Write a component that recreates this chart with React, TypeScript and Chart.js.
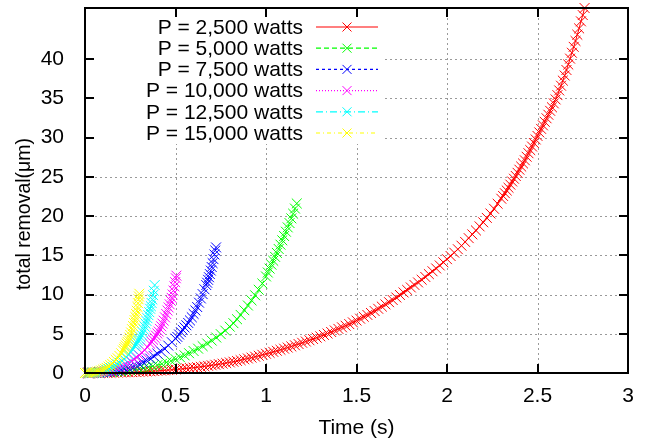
import React, { useEffect, useRef } from 'react';
import { Chart, registerables } from 'chart.js';

Chart.register(...registerables);

const FONT = '"Liberation Sans", Arial, Helvetica, sans-serif';

// ---- Data (time in s, total removal in µm) ----
const redT = [0, 0.02, 0.04, 0.06, 0.08, 0.1, 0.12, 0.14, 0.16, 0.18, 0.2, 0.22, 0.24, 0.26, 0.28, 0.3, 0.32, 0.34, 0.36, 0.38, 0.4, 0.42, 0.44, 0.46, 0.48, 0.5, 0.52, 0.54, 0.56, 0.58, 0.6, 0.62, 0.64, 0.66, 0.68, 0.7, 0.72, 0.74, 0.76, 0.78, 0.8,
  0.82, 0.84, 0.86, 0.88, 0.9, 0.92, 0.94, 0.96, 0.98, 1.0, 1.02, 1.04, 1.06, 1.08, 1.1, 1.12, 1.14, 1.16, 1.18, 1.2, 1.22, 1.24, 1.26, 1.28, 1.3, 1.32, 1.34, 1.36, 1.38, 1.4, 1.42, 1.44, 1.46, 1.48, 1.5, 1.52, 1.54, 1.56, 1.58, 1.6,
  1.62, 1.64, 1.66, 1.68, 1.7, 1.72, 1.74, 1.76, 1.78, 1.8, 1.82, 1.84, 1.86, 1.88, 1.9, 1.92, 1.94, 1.96, 1.98, 2.0, 2.02, 2.04, 2.06, 2.08, 2.1, 2.12, 2.14, 2.16, 2.18, 2.2, 2.22, 2.24, 2.26, 2.28, 2.3,
  2.31, 2.32, 2.33, 2.34, 2.35, 2.36, 2.37, 2.38, 2.39, 2.4, 2.41, 2.42, 2.43, 2.44, 2.45, 2.46, 2.47, 2.48, 2.49, 2.5, 2.51, 2.52, 2.53, 2.54, 2.55, 2.56, 2.57, 2.58, 2.59, 2.6, 2.61, 2.62, 2.63, 2.64, 2.65, 2.66, 2.67, 2.68, 2.69, 2.7, 2.71, 2.72, 2.73, 2.74, 2.75, 2.76];
const redV = [0, 0.002, 0.005, 0.008, 0.012, 0.02, 0.03, 0.04, 0.05, 0.06, 0.07, 0.085, 0.1, 0.115, 0.13, 0.15, 0.17, 0.195, 0.22, 0.25, 0.28, 0.31, 0.34, 0.375, 0.41, 0.45, 0.49, 0.535, 0.58, 0.63, 0.68, 0.735, 0.79, 0.85, 0.91, 0.98, 1.05, 1.12, 1.19, 1.27, 1.35,
  1.44, 1.53, 1.63, 1.74, 1.85, 1.96, 2.08, 2.2, 2.32, 2.45, 2.57, 2.7, 2.83, 2.96, 3.1, 3.24, 3.38, 3.53, 3.69, 3.85, 4.01, 4.17, 4.33, 4.5, 4.67, 4.85, 5.03, 5.22, 5.42, 5.62, 5.82, 6.02, 6.23, 6.45, 6.68, 6.92, 7.16, 7.4, 7.65, 7.9,
  8.18, 8.46, 8.74, 9.02, 9.3, 9.62, 9.94, 10.26, 10.58, 10.9, 11.22, 11.54, 11.88, 12.24, 12.6, 12.96, 13.32, 13.7, 14.1, 14.5, 14.9, 15.33, 15.77, 16.22, 16.7, 17.18, 17.66, 18.16, 18.68, 19.2, 19.76, 20.32, 20.92, 21.56, 22.2,
  22.55, 22.9, 23.25, 23.6, 24.0, 24.4, 24.75, 25.1, 25.5, 25.9, 26.3, 26.7, 27.1, 27.55, 28.0, 28.4, 28.85, 29.3, 29.75, 30.2, 30.65, 31.1, 31.55, 32.0, 32.45, 32.9, 33.4, 33.85, 34.35, 34.85, 35.4, 36.0, 36.6, 37.25, 37.9, 38.6, 39.3, 40.05, 40.8, 41.55, 42.3, 43.1, 43.9, 44.8, 45.6, 46.5];

const greenT = [0, 0.025, 0.05, 0.075, 0.1, 0.125, 0.15, 0.175, 0.2, 0.225, 0.25, 0.275, 0.3, 0.325, 0.35, 0.375, 0.4, 0.425, 0.45, 0.475, 0.5, 0.525, 0.55, 0.575, 0.6, 0.625, 0.65, 0.675, 0.7, 0.725, 0.75, 0.775, 0.8,
  0.82, 0.84, 0.86, 0.88, 0.9, 0.92, 0.94, 0.96, 0.98, 1.0,
  1.01, 1.02, 1.03, 1.04, 1.05, 1.06, 1.07, 1.08, 1.09, 1.1, 1.11, 1.12, 1.13, 1.14, 1.15, 1.16, 1.17];
const greenV = [0, 0.01, 0.02, 0.04, 0.06, 0.09, 0.13, 0.17, 0.22, 0.28, 0.35, 0.43, 0.52, 0.62, 0.74, 0.87, 1.01, 1.17, 1.35, 1.55, 1.77, 2.0, 2.25, 2.52, 2.8, 3.1, 3.42, 3.76, 4.13, 4.52, 4.95, 5.4, 5.9,
  6.35, 6.85, 7.4, 8.0, 8.6, 9.25, 9.9, 10.6, 11.4, 12.3,
  12.8, 13.3, 13.8, 14.3, 14.8, 15.3, 15.8, 16.35, 16.9, 17.45, 18.0, 18.55, 19.1, 19.7, 20.3, 20.95, 21.6];

const blueT = [0, 0.02, 0.04, 0.06, 0.08, 0.1, 0.12, 0.14, 0.16, 0.18, 0.2, 0.22, 0.24, 0.26, 0.28, 0.3, 0.32, 0.34, 0.36, 0.38, 0.4, 0.42, 0.44, 0.46, 0.48, 0.5,
  0.51, 0.52, 0.53, 0.54, 0.55, 0.56, 0.57, 0.58, 0.59, 0.6, 0.61, 0.62, 0.63, 0.64, 0.65, 0.66, 0.67,
  0.675, 0.68, 0.685, 0.69, 0.695, 0.7, 0.705, 0.71, 0.715, 0.72, 0.724];
const blueV = [0, 0.01, 0.02, 0.03, 0.06, 0.09, 0.13, 0.18, 0.24, 0.3, 0.4, 0.53, 0.67, 0.81, 0.96, 1.14, 1.37, 1.6, 1.84, 2.15, 2.47, 2.75, 3.09, 3.49, 3.92, 4.38,
  4.6, 4.9, 5.2, 5.5, 5.8, 6.08, 6.38, 6.7, 7.1, 7.53, 7.96, 8.4, 8.96, 9.5, 10.05, 10.67, 11.2,
  11.5, 11.87, 12.2, 12.6, 13.05, 13.5, 14.0, 14.5, 15.1, 15.6, 16.0];

const magentaT = [0, 0.015, 0.03, 0.045, 0.06, 0.075, 0.09, 0.105, 0.12, 0.135, 0.15, 0.165, 0.18, 0.195, 0.21, 0.225, 0.24, 0.255, 0.27, 0.285, 0.3, 0.315, 0.33, 0.345, 0.36,
  0.368, 0.376, 0.384, 0.392, 0.4, 0.407, 0.414, 0.421, 0.428, 0.435, 0.442, 0.449, 0.456, 0.462, 0.468, 0.474, 0.479, 0.484, 0.489, 0.494, 0.498, 0.502, 0.505];
const magentaV = [0, 0.01, 0.01, 0.03, 0.05, 0.08, 0.12, 0.16, 0.22, 0.27, 0.38, 0.51, 0.62, 0.74, 0.89, 1.09, 1.26, 1.49, 1.76, 2.01, 2.26, 2.58, 2.91, 3.29, 3.72,
  3.98, 4.24, 4.49, 4.76, 5.03, 5.28, 5.62, 5.95, 6.29, 6.67, 7.09, 7.51, 7.95, 8.35, 8.75, 9.2, 9.57, 10.0, 10.5, 11.04, 11.57, 12.07, 12.4];

const cyanT = [0, 0.012, 0.024, 0.036, 0.048, 0.06, 0.072, 0.084, 0.096, 0.108, 0.12, 0.132, 0.144, 0.156, 0.168, 0.18, 0.192, 0.204, 0.216, 0.228, 0.24, 0.252, 0.264, 0.276,
  0.282, 0.288, 0.294, 0.3, 0.306, 0.312, 0.318, 0.324, 0.33, 0.335, 0.34, 0.345, 0.35, 0.355, 0.36, 0.364, 0.368, 0.372, 0.376, 0.38, 0.385];
const cyanV = [0, 0.01, 0.01, 0.03, 0.05, 0.08, 0.12, 0.16, 0.21, 0.3, 0.4, 0.51, 0.63, 0.75, 0.93, 1.11, 1.3, 1.55, 1.79, 2.03, 2.32, 2.65, 3.01, 3.42,
  3.64, 3.86, 4.11, 4.35, 4.59, 4.87, 5.21, 5.55, 5.91, 6.27, 6.62, 6.98, 7.37, 7.75, 8.18, 8.51, 8.92, 9.37, 9.92, 10.48, 11.2];

const yellowT = [0, 0.01, 0.02, 0.03, 0.04, 0.05, 0.06, 0.07, 0.08, 0.09, 0.1, 0.11, 0.12, 0.13, 0.14, 0.15, 0.16, 0.17, 0.18, 0.19, 0.2, 0.21,
  0.215, 0.22, 0.225, 0.23, 0.235, 0.24, 0.245, 0.25, 0.255, 0.26, 0.265, 0.27,
  0.274, 0.278, 0.282, 0.286, 0.29, 0.293, 0.296, 0.298, 0.3];
const yellowV = [0, 0.01, 0.02, 0.03, 0.05, 0.08, 0.12, 0.17, 0.23, 0.32, 0.43, 0.54, 0.65, 0.82, 1.0, 1.17, 1.41, 1.66, 1.88, 2.18, 2.51, 2.86,
  3.08, 3.29, 3.51, 3.75, 3.97, 4.2, 4.52, 4.84, 5.16, 5.58, 5.98, 6.39,
  6.74, 7.13, 7.52, 7.93, 8.41, 8.89, 9.39, 9.75, 10.1];

const seriesLabels = ['P = 2,500 watts', 'P = 5,000 watts', 'P = 7,500 watts', 'P = 10,000 watts', 'P = 12,500 watts', 'P = 15,000 watts'];
const seriesTimes = [redT, greenT, blueT, magentaT, cyanT, yellowT];
const seriesValues = [redV, greenV, blueV, magentaV, cyanV, yellowV];

const xTickValues = [0, 0.5, 1, 1.5, 2, 2.5, 3];
const xTickLabels = ['0', '0.5', '1', '1.5', '2', '2.5', '3'];
const yTickValues = [0, 5, 10, 15, 20, 25, 30, 35, 40];
const yTickLabels = ['0', '5', '10', '15', '20', '25', '30', '35', '40'];
const xTitle = 'Time (s)';
const yTitle = 'total removal(μm)';

// ---- Styles ----
const seriesColors = ['#ff0000', '#00ff00', '#0000ff', '#ff00ff', '#00ffff', '#ffff00'];
const seriesDashes = [[], [5, 3], [3, 3], [1, 2], [7, 3, 1, 3], [4, 3, 1, 3]];

const KEY = { textRight: 303, sampleLeft: 316, sampleRight: 378, markX: 347, firstRow: 27, rowStep: 21.2, boxRight: 383, boxBottom: 143, font: 21 };
const TICK_LEN = 9;
const Y_TITLE = { x: 25, y: 214, size: 19.5 };

function drawX(ctx: CanvasRenderingContext2D, cx: number, cy: number, h: number) {
  ctx.beginPath();
  ctx.moveTo(cx - h, cy - h); ctx.lineTo(cx + h, cy + h);
  ctx.moveTo(cx - h, cy + h); ctx.lineTo(cx + h, cy - h);
  ctx.stroke();
}

const gnuplotFrame = {
  id: 'gnuplotFrame',
  beforeDatasetsDraw(chart: any) {
    const { ctx, chartArea: a, scales } = chart;
    const x = scales.x, y = scales.y;
    ctx.save();
    ctx.strokeStyle = '#9a9a9a';
    ctx.lineWidth = 1;
    ctx.setLineDash([2, 3]);
    xTickValues.forEach((v) => {
      const px = Math.round(x.getPixelForValue(v)) + 0.5;
      if (px <= a.left + 2 || px >= a.right - 2) return;
      ctx.beginPath(); ctx.moveTo(px, a.top); ctx.lineTo(px, a.bottom); ctx.stroke();
    });
    yTickValues.forEach((v) => {
      const py = Math.round(y.getPixelForValue(v)) + 0.5;
      if (py <= a.top + 2 || py >= a.bottom - 2) return;
      ctx.beginPath(); ctx.moveTo(a.left, py); ctx.lineTo(a.right, py); ctx.stroke();
    });
    ctx.restore();
  },
  afterDatasetsDraw(chart: any) {
    const { ctx, chartArea: a, scales } = chart;
    const x = scales.x, y = scales.y;
    ctx.save();
    // opaque key box
    ctx.fillStyle = '#ffffff';
    ctx.fillRect(a.left + 1, a.top + 1, KEY.boxRight - a.left, KEY.boxBottom - a.top);
    // key entries
    ctx.font = `${KEY.font}px ${FONT}`;
    ctx.textAlign = 'right';
    ctx.textBaseline = 'middle';
    seriesLabels.forEach((label, i) => {
      const ry = KEY.firstRow + i * KEY.rowStep;
      ctx.fillStyle = '#000';
      ctx.fillText(label, KEY.textRight, ry + 1);
      ctx.strokeStyle = seriesColors[i];
      ctx.lineWidth = 1.2;
      ctx.setLineDash(seriesDashes[i]);
      ctx.beginPath(); ctx.moveTo(KEY.sampleLeft, ry); ctx.lineTo(KEY.sampleRight, ry); ctx.stroke();
      ctx.setLineDash([]);
      ctx.lineWidth = 1;
      drawX(ctx, KEY.markX, ry, 4.5);
    });
    // border
    ctx.setLineDash([]);
    ctx.strokeStyle = '#000';
    ctx.lineWidth = 2;
    ctx.strokeRect(a.left, a.top, a.right - a.left, a.bottom - a.top);
    // tick marks (inward, mirrored)
    ctx.beginPath();
    xTickValues.forEach((v) => {
      const px = Math.round(x.getPixelForValue(v));
      ctx.moveTo(px, a.bottom); ctx.lineTo(px, a.bottom - TICK_LEN);
      ctx.moveTo(px, a.top); ctx.lineTo(px, a.top + TICK_LEN);
    });
    yTickValues.forEach((v) => {
      const py = Math.round(y.getPixelForValue(v));
      ctx.moveTo(a.left, py); ctx.lineTo(a.left + TICK_LEN, py);
      ctx.moveTo(a.right, py); ctx.lineTo(a.right - TICK_LEN, py);
    });
    ctx.stroke();
    // y axis title
    ctx.translate(Y_TITLE.x, Y_TITLE.y);
    ctx.rotate(-Math.PI / 2);
    ctx.font = `${Y_TITLE.size}px ${FONT}`;
    ctx.fillStyle = '#000';
    ctx.textAlign = 'center';
    ctx.textBaseline = 'middle';
    ctx.fillText(yTitle, 0, 0);
    ctx.restore();
  },
};

export default function App() {
  const canvasRef = useRef<HTMLCanvasElement | null>(null);

  useEffect(() => {
    const canvas = canvasRef.current;
    if (!canvas) return;
    const datasets = seriesLabels.map((label, i) => ({
      label,
      data: seriesTimes[i].map((t, j) => ({ x: t, y: seriesValues[i][j] })),
      showLine: true,
      borderColor: seriesColors[i],
      backgroundColor: seriesColors[i],
      borderWidth: 1,
      borderDash: seriesDashes[i],
      tension: 0,
      pointStyle: 'crossRot',
      pointRadius: 7,
      pointBorderWidth: 1,
      pointBorderColor: seriesColors[i],
      pointBackgroundColor: seriesColors[i],
      clip: false as any,
      order: seriesLabels.length - i,
    }));

    const zeroPad = (s: any) => {
      s.paddingLeft = 0; s.paddingRight = 0; s.paddingTop = 0; s.paddingBottom = 0;
    };

    const chart = new Chart(canvas, {
      type: 'scatter',
      data: { datasets: datasets as any },
      options: {
        responsive: false,
        maintainAspectRatio: false,
        animation: false,
        events: [],
        layout: { padding: { left: 0, right: 19, top: 6, bottom: 0 } },
        plugins: { legend: { display: false }, tooltip: { enabled: false } },
        scales: {
          x: {
            type: 'linear',
            min: 0,
            max: 3,
            grid: { display: false },
            border: { display: false },
            afterBuildTicks: (s: any) => { s.ticks = xTickValues.map((v) => ({ value: v })); },
            afterFit: (s: any) => { s.height = 72; zeroPad(s); },
            ticks: {
              autoSkip: false,
              maxRotation: 0,
              padding: 3,
              color: '#000',
              font: { family: FONT, size: 21 },
              callback: (_v: any, i: number) => xTickLabels[i],
            },
            title: {
              display: true,
              text: xTitle,
              color: '#000',
              font: { family: FONT, size: 21 },
              padding: { top: 0, bottom: 4 },
            },
          },
          y: {
            type: 'linear',
            min: 0,
            max: 46.5,
            grid: { display: false },
            border: { display: false },
            afterBuildTicks: (s: any) => { s.ticks = yTickValues.map((v) => ({ value: v })); },
            afterFit: (s: any) => { s.width = 85; zeroPad(s); },
            ticks: {
              autoSkip: false,
              padding: 13,
              color: '#000',
              font: { family: FONT, size: 21 },
              callback: (_v: any, i: number) => yTickLabels[i],
            },
          },
        },
      },
      plugins: [gnuplotFrame],
    });
    return () => chart.destroy();
  }, []);

  return (
    <div style={{ position: 'fixed', left: 0, top: 0, width: 647, height: 445, background: '#fff' }}>
      <canvas ref={canvasRef} width={647} height={445} style={{ width: 647, height: 445, display: 'block' }} />
    </div>
  );
}
